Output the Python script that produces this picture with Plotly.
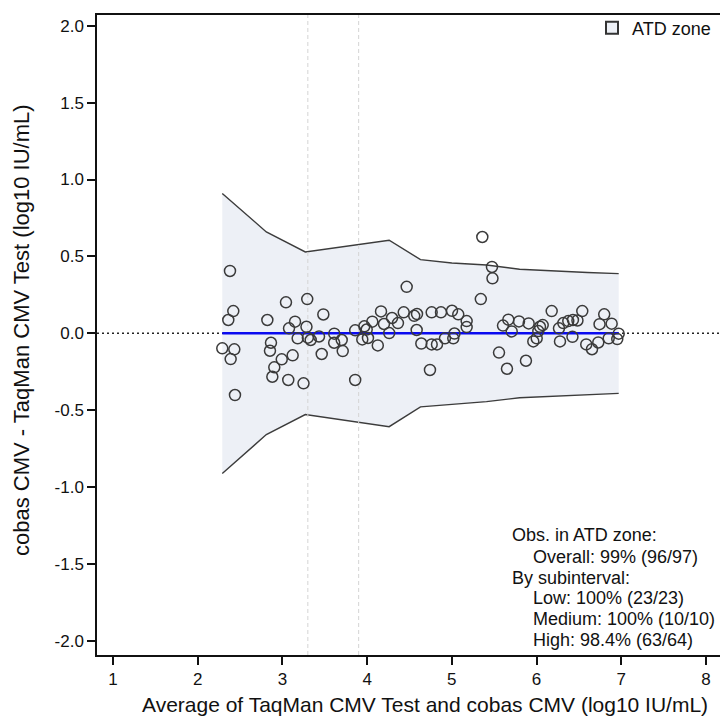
import plotly.graph_objects as go

# ---- data ----
avg_x = [2.381, 2.420, 2.361, 2.290, 2.432, 2.389, 2.440, 2.822, 2.865, 2.853,
         2.992, 2.904, 2.881, 3.069, 3.042, 3.149, 3.078, 3.180, 3.121, 3.249,
         3.293, 3.284, 3.300, 3.334, 3.432, 3.483, 3.464, 3.612, 3.611, 3.700,
         3.712, 3.859, 3.859, 3.967, 3.943, 4.010, 3.995, 4.061, 4.126, 4.164,
         4.199, 4.294, 4.261, 4.364, 4.432, 4.467, 4.556, 4.589, 4.585, 4.640,
         4.762, 4.872, 5.002, 5.076, 5.175, 5.175, 5.031, 5.017, 4.919, 4.762,
         4.825, 4.742, 5.360, 5.474, 5.480, 5.342, 5.557, 5.651, 5.875, 5.604,
         5.667, 5.707, 5.793, 5.907, 6.041, 6.073, 6.021, 6.002, 5.962, 6.179,
         6.277, 6.265, 6.316, 6.375, 6.430, 6.483, 6.540, 6.424, 6.587, 6.655,
         6.729, 6.799, 6.744, 6.887, 6.852, 6.970, 6.953]
diff_y = [0.405, 0.144, 0.086, -0.098, -0.105, -0.168, -0.402, 0.086, -0.062, -0.114,
          -0.170, -0.222, -0.283, -0.304, 0.201, 0.075, 0.032, -0.033, -0.144, -0.326,
          0.222, 0.042, -0.029, -0.044, -0.021, 0.122, -0.135, -0.003, -0.062, -0.044,
          -0.116, -0.304, 0.019, 0.045, -0.040, -0.031, 0.024, 0.075, -0.079, 0.142,
          0.060, 0.099, 0.001, 0.066, 0.136, 0.302, 0.113, 0.125, 0.021, -0.067,
          0.136, 0.136, 0.146, 0.123, 0.079, 0.040, -0.002, -0.033, -0.033, -0.073,
          -0.073, -0.239, 0.626, 0.431, 0.357, 0.222, -0.126, -0.231, -0.179, 0.050,
          0.088, 0.012, 0.077, 0.064, 0.042, 0.053, 0.014, -0.033, -0.053, 0.144,
          -0.053, 0.032, 0.066, 0.079, 0.086, 0.083, 0.144, -0.023, -0.073, -0.104,
          -0.060, 0.123, 0.059, 0.062, -0.033, -0.003, -0.038]

band_x = [2.29, 2.81, 3.27, 4.26, 4.63, 5.0, 5.41, 5.8, 6.6, 6.97]
band_upper = [0.909, 0.659, 0.529, 0.605, 0.479, 0.457, 0.444, 0.416, 0.395, 0.388]
band_lower = [-0.913, -0.659, -0.529, -0.608, -0.479, -0.462, -0.445, -0.420, -0.398, -0.391]

mean_bias = 0.0
subinterval_cuts = [3.3, 3.9]

x_range = [0.811, 8.166]
y_range = [-2.093, 2.070]
x_ticks = [1, 2, 3, 4, 5, 6, 7, 8]
y_ticks = [-2.0, -1.5, -1.0, -0.5, 0.0, 0.5, 1.0, 1.5, 2.0]
y_tick_text = ["-2.0", "-1.5", "-1.0", "-0.5", "0.0", "0.5", "1.0", "1.5", "2.0"]

legend_label = "ATD zone"
x_title = "Average of TaqMan CMV Test and cobas CMV (log10 IU/mL)"
y_title = "cobas CMV - TaqMan CMV Test (log10 IU/mL)"
note_lines = ["Obs. in ATD zone:", "Overall: 99% (96/97)", "By subinterval:",
              "Low: 100% (23/23)", "Medium: 100% (10/10)", "High: 98.4% (63/64)"]
note_indent = [False, True, False, True, True, True]

FONT = "Liberation Sans, Arial, sans-serif"
BAND_FILL = "#edf0f6"
EDGE = "#3c3c3c"

# layout geometry (pixels)
W, H = 720, 726
ML, MR, MT, MB = 97, 0, 15, 71
PW, PH = W - ML - MR, H - MT - MB


def px_x(p):
    return (p - ML) / PW


def px_y(p):
    return (H - MB - p) / PH


fig = go.Figure()

fig.add_trace(go.Scatter(
    x=band_x + band_x[::-1], y=band_upper + band_lower[::-1],
    fill="toself", fillcolor=BAND_FILL, mode="lines",
    line=dict(width=0, color=BAND_FILL), showlegend=False, hoverinfo="skip"))
for yy in (band_upper, band_lower):
    fig.add_trace(go.Scatter(x=band_x, y=yy, mode="lines",
                             line=dict(color=EDGE, width=1.4),
                             showlegend=False, hoverinfo="skip"))

for c in subinterval_cuts:
    fig.add_trace(go.Scatter(x=[c, c], y=y_range, mode="lines",
                             line=dict(color="#d4d4d4", width=1, dash="4px,3px"),
                             showlegend=False, hoverinfo="skip"))

fig.add_trace(go.Scatter(x=x_range, y=[0, 0], mode="lines",
                         line=dict(color="#222222", width=1.3, dash="2px,3px"),
                         showlegend=False, hoverinfo="skip"))

fig.add_trace(go.Scatter(x=[band_x[0], band_x[-1]], y=[mean_bias, mean_bias],
                         mode="lines", line=dict(color="#0a0af0", width=2.6),
                         showlegend=False, hoverinfo="skip"))

fig.add_trace(go.Scatter(x=avg_x, y=diff_y, mode="markers",
                         marker=dict(symbol="circle-open", size=11,
                                     color="#3a3a3a", line=dict(width=1.5)),
                         showlegend=False))

fig.add_trace(go.Scatter(x=[None], y=[None], mode="markers", name=legend_label,
                         marker=dict(symbol="square", size=12, color=BAND_FILL,
                                     line=dict(color="#333333", width=1.2)),
                         showlegend=True))

# statistics note, one annotation per line
line_y = [535, 556.5, 577.5, 598, 618.5, 639.5]
for txt, ind, ly in zip(note_lines, note_indent, line_y):
    fig.add_annotation(x=px_x(531 if ind else 510), y=px_y(ly), xref="paper", yref="paper",
                       xanchor="left", yanchor="middle", text=txt, showarrow=False,
                       font=dict(family=FONT, size=18, color="#111111"))

# axis titles
fig.add_annotation(x=px_x(425), y=px_y(704), xref="paper", yref="paper",
                   xanchor="center", yanchor="middle", text=x_title, showarrow=False,
                   font=dict(family=FONT, size=21, color="#111111"))
fig.add_annotation(x=px_x(21), y=px_y(330), xref="paper", yref="paper",
                   xanchor="center", yanchor="middle", text=y_title, showarrow=False,
                   textangle=-90, font=dict(family=FONT, size=22, color="#111111"))

fig.update_layout(
    width=W, height=H,
    margin=dict(l=ML, r=MR, t=MT, b=MB, autoexpand=False),
    paper_bgcolor="white", plot_bgcolor="white",
    font=dict(family=FONT, size=17, color="#111111"),
    showlegend=True,
    legend=dict(x=px_x(592), y=px_y(28), xanchor="left", yanchor="middle",
                bgcolor="rgba(0,0,0,0)", font=dict(size=18, family=FONT),
                itemsizing="constant"),
    xaxis=dict(range=x_range, tickvals=x_ticks, showgrid=False, zeroline=False,
               showline=True, linecolor="#111111", linewidth=1.5, mirror=True,
               ticks="outside", ticklen=8, tickwidth=1.5, tickcolor="#111111",
               tickfont=dict(size=17), automargin=False),
    yaxis=dict(range=y_range, tickvals=y_ticks, ticktext=y_tick_text, showgrid=False,
               zeroline=False, showline=True, linecolor="#111111", linewidth=1.5,
               ticks="outside", ticklen=8, tickwidth=1.5, tickcolor="#111111",
               tickfont=dict(size=17), automargin=False),
)

fig.write_html("out.html", config={"displayModeBar": False},
               post_script="document.body.style.margin='0';document.body.style.overflow='hidden';")
